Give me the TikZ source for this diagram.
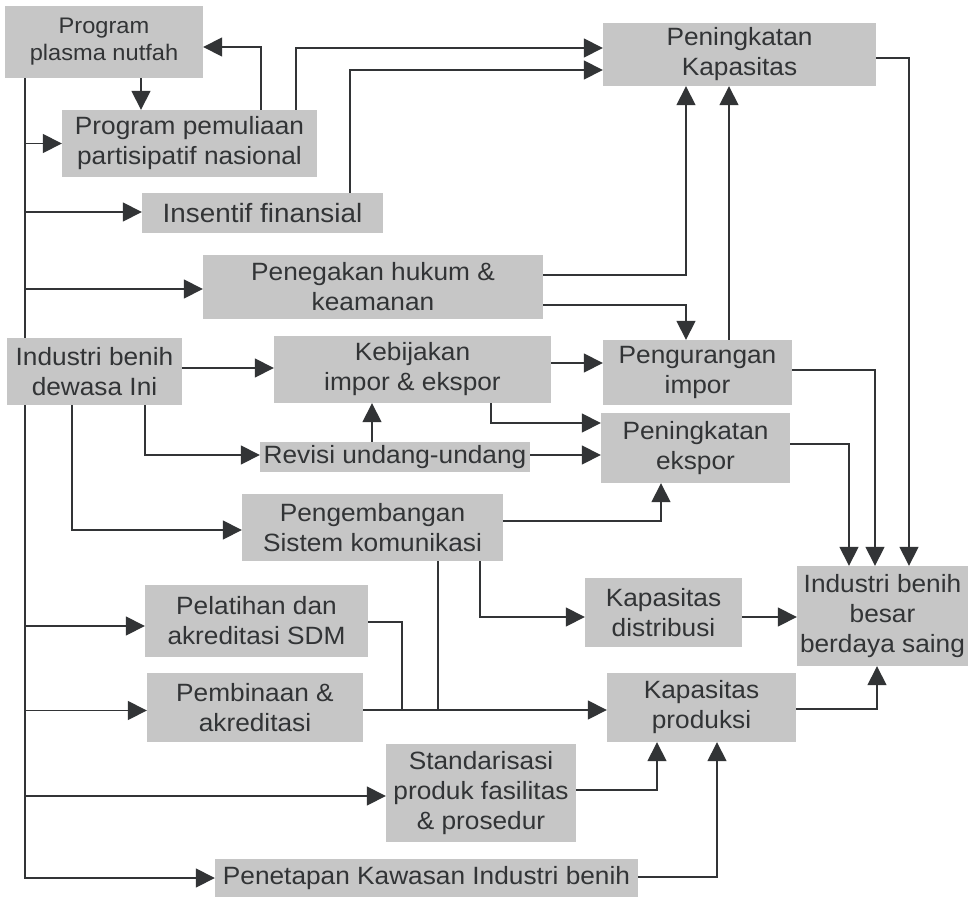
\documentclass[tikz,border=0pt]{standalone}
\usepackage{fontspec}
\setmainfont[FakeStretch=1.05]{Liberation Sans}
\usetikzlibrary{arrows.meta}
\definecolor{boxgray}{RGB}{198,198,198}
\definecolor{ink}{RGB}{50,52,54}
\begin{document}
\begin{tikzpicture}[x=1pt,y=-1pt,
  box/.style={rectangle, fill=boxgray, draw=none, inner sep=0pt, align=center, text=ink,
    font=\fontsize{25}{30}\selectfont},
  ln/.style={draw=ink, line width=1.6pt},
  arr/.style={ln, -{Triangle[length=19pt,width=19pt]}}]
\useasboundingbox (0,0) rectangle (975,900);
\fill[white] (0,0) rectangle (975,900);

% nodes
\node[box, minimum width=198pt, minimum height=72pt, font=\fontsize{22.5}{27}\selectfont] (plasma) at (104,42) {Program\\plasma nutfah};
\node[box, minimum width=255pt, minimum height=67pt] (pemuliaan) at (189.5,143.5) {Program pemuliaan\\partisipatif nasional};
\node[box, minimum width=241pt, minimum height=40pt, font=\fontsize{26.5}{30}\selectfont] (insentif) at (262.5,213) {Insentif finansial};
\node[box, minimum width=273pt, minimum height=63pt] (kapasitas) at (739.5,54.5) {Peningkatan\\Kapasitas};
\node[box, minimum width=340pt, minimum height=64pt] (penegakan) at (373,287) {Penegakan hukum \&\\keamanan};
\node[box, minimum width=175pt, minimum height=67pt] (dewasa) at (94.5,371.5) {Industri benih\\dewasa Ini};
\node[box, minimum width=277pt, minimum height=67pt] (kebijakan) at (412.5,369.5) {Kebijakan\\impor \& ekspor};
\node[box, minimum width=189pt, minimum height=65pt] (pengurangan) at (697.5,372.5) {Pengurangan\\impor};
\node[box, minimum width=189pt, minimum height=70pt] (ekspor) at (695.5,448) {Peningkatan\\ekspor};
\node[box, minimum width=270pt, minimum height=30pt] (revisi) at (395,457) {Revisi undang-undang};
\node[box, minimum width=261pt, minimum height=67pt] (pengembangan) at (372.5,527.5) {Pengembangan\\Sistem komunikasi};
\node[box, minimum width=223pt, minimum height=72pt] (pelatihan) at (256.5,621) {Pelatihan dan\\akreditasi SDM};
\node[box, minimum width=216pt, minimum height=69pt] (pembinaan) at (255,707.5) {Pembinaan \&\\akreditasi};
\node[box, minimum width=190pt, minimum height=98pt] (standarisasi) at (481,793) {Standarisasi\\produk fasilitas\\\& prosedur};
\node[box, minimum width=423pt, minimum height=38pt] (penetapan) at (426.5,878) {Penetapan Kawasan Industri benih};
\node[box, minimum width=157pt, minimum height=69pt] (distribusi) at (663.5,612.5) {Kapasitas\\distribusi};
\node[box, minimum width=189pt, minimum height=69pt] (produksi) at (701.5,707.5) {Kapasitas\\produksi};
\node[box, minimum width=171pt, minimum height=100pt] (besar) at (882.5,616) {Industri benih\\besar\\berdaya saing};

% helper x positions
\coordinate (tx) at (25,0);
\coordinate (x141) at (141,0);
\coordinate (x261) at (261,0);
\coordinate (x296) at (296,0);
\coordinate (x350) at (350,0);
\coordinate (x686) at (686,0);
\coordinate (x729) at (729,0);
\coordinate (x909) at (909,0);
\coordinate (x145) at (145,0);
\coordinate (x72) at (72,0);
\coordinate (x372) at (372,0);
\coordinate (x491) at (491,0);
\coordinate (x661) at (661,0);
\coordinate (x875) at (875,0);
\coordinate (x849) at (849,0);
\coordinate (x480) at (480,0);
\coordinate (x438) at (438,0);
\coordinate (x402) at (402,0);
\coordinate (x877) at (877,0);
\coordinate (x657) at (657,0);
\coordinate (x717) at (717,0);

% trunk
\draw[ln] (plasma.south -| tx) -- (dewasa.north -| tx);
\draw[arr] (dewasa.south -| tx) |- (penetapan.west);
\draw[arr] (pemuliaan.west -| tx) -- (pemuliaan.west);
\draw[arr] ([yshift=1pt]insentif.west -| tx) -- ([yshift=1pt]insentif.west);
\draw[arr] ([yshift=-2pt]penegakan.west -| tx) -- ([yshift=-2pt]penegakan.west);
\draw[arr] ([yshift=-5pt]pelatihan.west -| tx) -- ([yshift=-5pt]pelatihan.west);
\draw[arr] ([yshift=-3pt]pembinaan.west -| tx) -- ([yshift=-3pt]pembinaan.west);
\draw[arr] ([yshift=-3pt]standarisasi.west -| tx) -- ([yshift=-3pt]standarisasi.west);

% top area
\draw[arr] (plasma.south -| x141) -- (pemuliaan.north -| x141);
\draw[arr] (pemuliaan.north -| x261) |- ([yshift=-5pt]plasma.east);
\draw[arr] (pemuliaan.north -| x296) |- ([yshift=6.5pt]kapasitas.west);
\draw[arr] (insentif.north -| x350) |- ([yshift=-15.5pt]kapasitas.west);
\draw[arr] ([yshift=12pt]penegakan.east) -| (kapasitas.south -| x686);
\draw[arr] ([yshift=-18pt]penegakan.east) -| (pengurangan.north -| x686);
\draw[arr] (pengurangan.north -| x729) -- (kapasitas.south -| x729);
\draw[arr] ([yshift=-3.5pt]kapasitas.east) -| (besar.north -| x909);

% middle
\draw[arr] ([yshift=3.5pt]dewasa.east) -- ([yshift=3.5pt]dewasa.east -| kebijakan.west);
\draw[arr] (dewasa.south -| x145) |- ([yshift=2pt]revisi.west);
\draw[arr] (dewasa.south -| x72) |- ([yshift=-2.5pt]pengembangan.west);
\draw[arr] (revisi.north -| x372) -- (kebijakan.south -| x372);
\draw[arr] ([yshift=6.5pt]kebijakan.east) -- ([yshift=6.5pt]kebijakan.east -| pengurangan.west);
\draw[arr] (kebijakan.south -| x491) |- ([yshift=25pt]ekspor.west);
\draw[arr] ([yshift=2pt]revisi.east) -- ([yshift=2pt]revisi.east -| ekspor.west);
\draw[arr] ([yshift=6.5pt]pengembangan.east) -| (ekspor.south -| x661);
\draw[arr] ([yshift=2.5pt]pengurangan.east) -| (besar.north -| x875);
\draw[arr] ([yshift=4pt]ekspor.east) -| (besar.north -| x849);

% bottom
\draw[arr] (pengembangan.south -| x480) |- ([yshift=-4.5pt]distribusi.west);
\draw[ln] (pengembangan.south -| x438) -- ([yshift=-2.5pt]produksi.west -| x438);
\draw[ln] ([yshift=-1pt]pelatihan.east) -| ([yshift=-2.5pt]produksi.west -| x402);
\draw[arr] ([yshift=-2.5pt]pembinaan.east) -- ([yshift=-2.5pt]produksi.west);
\draw[arr] ([yshift=-4.5pt]distribusi.east) -- ([yshift=-4.5pt]distribusi.east -| besar.west);
\draw[arr] ([yshift=-1.5pt]produksi.east) -| (besar.south -| x877);
\draw[arr] ([yshift=3pt]standarisasi.east) -| (produksi.south -| x657);
\draw[arr] ([yshift=1pt]penetapan.east) -| (produksi.south -| x717);
\end{tikzpicture}
\end{document}
